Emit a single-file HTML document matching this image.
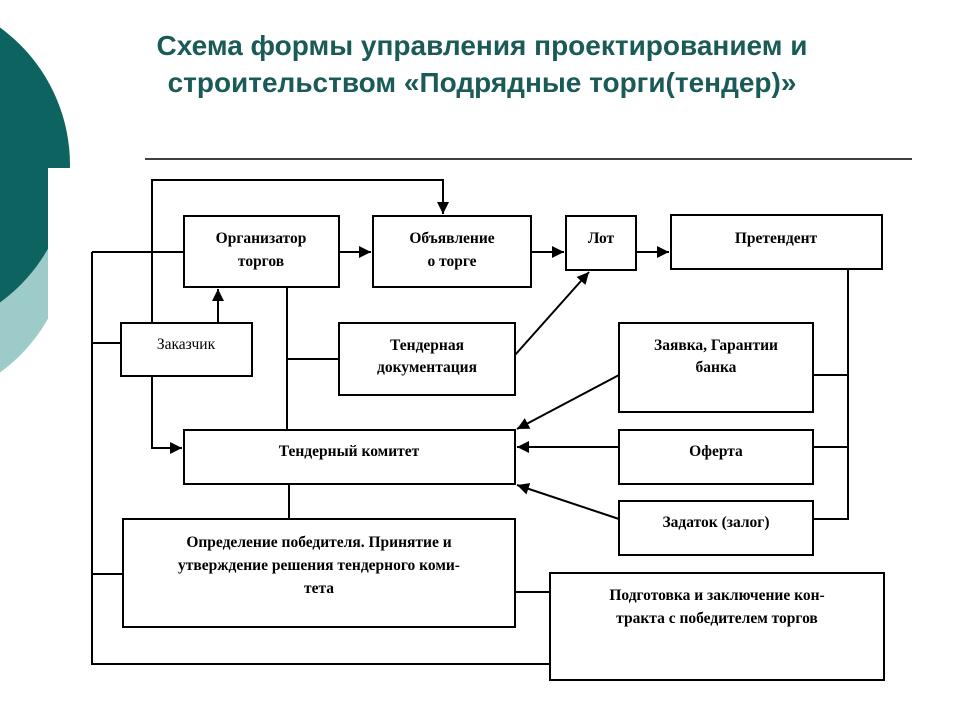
<!DOCTYPE html>
<html><head><meta charset="utf-8"><style>
html,body{margin:0;padding:0;background:#fff;}
svg{display:block;}
.t{font-family:"Liberation Serif","DejaVu Serif",serif;font-weight:bold;font-size:15.5px;fill:#000;text-anchor:middle;}
.h{font-family:"Liberation Sans","DejaVu Sans",sans-serif;font-weight:bold;font-size:28px;fill:#1a5b58;text-anchor:middle;}
</style></head><body>
<svg width="960" height="720" viewBox="0 0 960 720" xmlns="http://www.w3.org/2000/svg">
<defs>
<clipPath id="c1"><path d="M0 0H72V168H48V720H0Z"/></clipPath>
<clipPath id="c2"><rect x="0" y="0" width="48" height="720"/></clipPath>
<marker id="a" viewBox="0 0 10 10" refX="10" refY="5" markerWidth="6" markerHeight="6" orient="auto"><path d="M0 0L10 5L0 10Z" fill="#000"/></marker>
</defs>
<circle cx="-100" cy="235" r="170" fill="#9ccbca" clip-path="url(#c2)"/>
<circle cx="-100" cy="165" r="170" fill="#0d635f" clip-path="url(#c1)"/>
<text class="h" x="482" y="55">Схема формы управления проектированием и</text>
<text class="h" x="482" y="92">строительством «Подрядные торги(тендер)»</text>
<line x1="145" y1="159" x2="912" y2="159" stroke="#000" stroke-width="1.5"/>
<g fill="none" stroke="#000" stroke-width="2">
<rect x="184" y="216" width="155" height="71"/>
<rect x="373" y="216" width="158" height="71"/>
<rect x="566" y="216" width="70" height="54"/>
<rect x="671" y="215" width="211" height="54"/>
<rect x="121" y="323" width="131" height="53"/>
<rect x="339" y="323" width="176" height="72"/>
<rect x="619" y="323" width="194" height="89"/>
<rect x="184" y="430" width="331" height="54"/>
<rect x="619" y="430" width="194" height="54"/>
<rect x="619" y="501" width="194" height="54"/>
<rect x="123" y="519" width="392" height="108"/>
<rect x="550" y="573" width="334" height="107"/>
<polyline points="92,252 92,664 550,664"/>
<line x1="92" y1="252" x2="184" y2="252"/>
<line x1="92" y1="343" x2="121" y2="343"/>
<line x1="92" y1="574" x2="123" y2="574"/>
<polyline points="152,323 152,180 443,180 443,214" marker-end="url(#a)"/>
<polyline points="152,376 152,448 182,448" marker-end="url(#a)"/>
<line x1="218" y1="323" x2="218" y2="289" marker-end="url(#a)"/>
<line x1="287" y1="287" x2="287" y2="430"/>
<line x1="287" y1="359" x2="339" y2="359"/>
<line x1="339" y1="252" x2="371" y2="252" marker-end="url(#a)"/>
<line x1="531" y1="252" x2="564" y2="252" marker-end="url(#a)"/>
<line x1="636" y1="252" x2="669" y2="252" marker-end="url(#a)"/>
<line x1="515" y1="355" x2="589" y2="272" marker-end="url(#a)"/>
<polyline points="848,269 848,519 813,519"/>
<line x1="813" y1="375" x2="848" y2="375"/>
<line x1="813" y1="447" x2="848" y2="447"/>
<line x1="619" y1="375" x2="517" y2="429" marker-end="url(#a)"/>
<line x1="619" y1="447" x2="517" y2="447" marker-end="url(#a)"/>
<line x1="619" y1="519" x2="517" y2="485" marker-end="url(#a)"/>
<line x1="289" y1="484" x2="289" y2="519"/>
<line x1="515" y1="592" x2="550" y2="592"/>
</g>
<text class="t" x="261" y="243">Организатор</text>
<text class="t" x="261" y="266">торгов</text>
<text class="t" x="452" y="243">Объявление</text>
<text class="t" x="452" y="266">о торге</text>
<text class="t" x="601" y="243">Лот</text>
<text class="t" x="776" y="243">Претендент</text>
<text class="t" x="186" y="349" style="font-weight:normal">Заказчик</text>
<text class="t" x="427" y="350">Тендерная</text>
<text class="t" x="427" y="372">документация</text>
<text class="t" x="716" y="350">Заявка, Гарантии</text>
<text class="t" x="716" y="372">банка</text>
<text class="t" x="349" y="456">Тендерный комитет</text>
<text class="t" x="716" y="456">Оферта</text>
<text class="t" x="716" y="527">Задаток (залог)</text>
<text class="t" x="319" y="547">Определение победителя. Принятие и</text>
<text class="t" x="319" y="570">утверждение решения тендерного коми-</text>
<text class="t" x="319" y="593">тета</text>
<text class="t" x="717" y="600">Подготовка и заключение кон-</text>
<text class="t" x="717" y="623">тракта с победителем торгов</text>
</svg>
</body></html>
